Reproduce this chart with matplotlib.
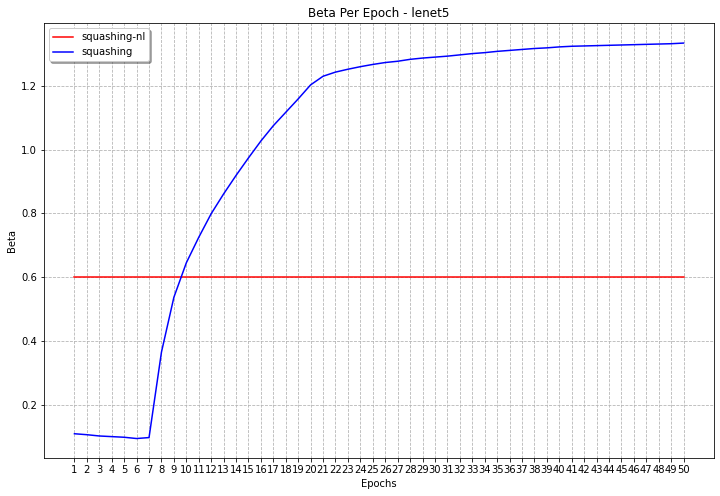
import numpy as np
import matplotlib
matplotlib.use('Agg')
from matplotlib import pyplot as plt

# Beta values
epochs = list(range(1, 51))
beta_squashing = [0.109, 0.106, 0.102, 0.100, 0.098, 0.094, 0.097, 0.365, 0.537, 0.645,
                  0.725, 0.799, 0.861, 0.919, 0.974, 1.027, 1.075, 1.117, 1.159, 1.203,
                  1.230, 1.243, 1.252, 1.260, 1.267, 1.273, 1.277, 1.283, 1.287, 1.290,
                  1.293, 1.297, 1.301, 1.304, 1.308, 1.311, 1.314, 1.317, 1.319, 1.322,
                  1.324, 1.325, 1.326, 1.327, 1.328, 1.329, 1.330, 1.331, 1.332, 1.334]
beta_squashing_nl = [0.6] * len(epochs)

fig, ax = plt.subplots(figsize=(10, 6.889), dpi=72)
ax.plot(epochs, beta_squashing_nl, color='r', label='squashing-nl')
ax.plot(epochs, beta_squashing, color='b', label='squashing')

ax.set_title('Beta Per Epoch - lenet5')
ax.set_xlabel('Epochs')
ax.set_ylabel('Beta')
ax.set_xticks(epochs)
ax.grid(True, linestyle='--', color='0.7')
ax.legend(loc='upper left', shadow=True, fancybox=True)

fig.subplots_adjust(left=0.0611, right=0.9917, top=0.953, bottom=0.076)
plt.savefig('out.png', dpi=72)
